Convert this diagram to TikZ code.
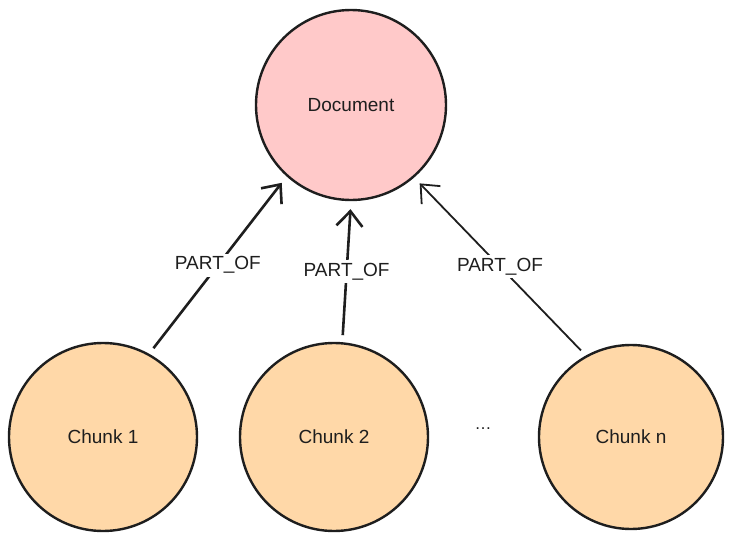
\documentclass[tikz,border=0pt]{standalone}
\usepackage{fontspec}
\setmainfont{Liberation Sans}
\usetikzlibrary{arrows.meta,positioning}
\definecolor{docpink}{HTML}{FFC9C9}
\definecolor{chunkorange}{HTML}{FFD8A8}
\definecolor{ink}{HTML}{1E1E1E}

\begin{document}
\begin{tikzpicture}[x=1pt,y=-1pt,
  every node/.style={font=\fontsize{19}{22}\selectfont, text=ink},
  blob/.style={circle, draw=ink, line width=2.4pt, minimum size=188pt, inner sep=0pt},
  partof/.style={draw=ink, line width=2.6pt, -{Straight Barb[length=15pt,width=26pt]}, shorten <=7pt, shorten >=8pt},
  lbl/.style={fill=white, inner sep=3pt}]
\useasboundingbox (0,0) rectangle (737,544);

\node[blob, fill=docpink, minimum size=190pt] (doc) at (351,105) {Document};
\node[blob, fill=chunkorange] (c1) at (103,437) {Chunk 1};
\node[blob, fill=chunkorange] (c2) at (334,437) {Chunk 2};
\node[blob, fill=chunkorange, minimum size=184pt] (cn) at (631,437) {Chunk n};
\node[font=\fontsize{17}{19}\selectfont] (dots) at (483,429) {\dots};

% chunks point up to the document
\draw[partof] (c1.61) -- node[lbl]{PART\_OF} (doc.228);
\draw[partof] (c2.85) -- node[lbl]{PART\_OF} (doc.-90);
\draw[partof, line width=1.8pt] (cn.119) -- node[lbl]{PART\_OF} (doc.-49);
\end{tikzpicture}
\end{document}
